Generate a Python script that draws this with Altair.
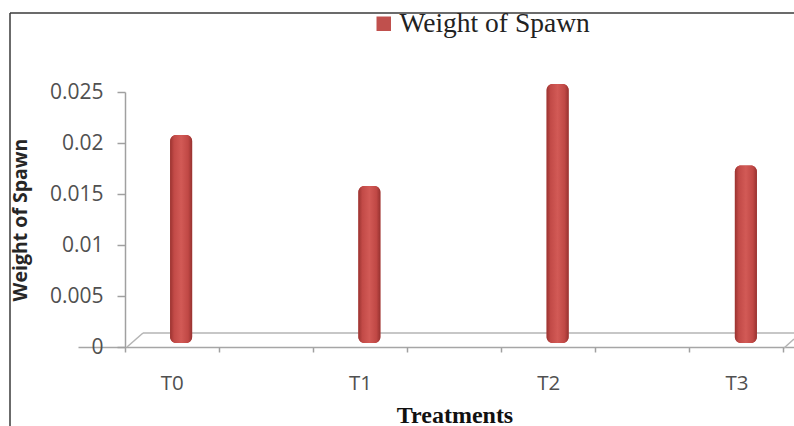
import altair as alt
import pandas as pd

categories = ["T0", "T1", "T2", "T3"]
weights = [0.02, 0.015, 0.025, 0.017]
series_name = "Weight of Spawn"
y_ticks = [0, 0.005, 0.01, 0.015, 0.02, 0.025]

df = pd.DataFrame({"Treatment": categories, "Weight": weights,
                   "Series": [series_name] * len(categories)})
one = pd.DataFrame({"k": [0]})

W, H = 659, 255

xscale = alt.Scale(domain=categories, range=[-47, 706], paddingInner=0, paddingOuter=0)
yscale = alt.Scale(domain=[0, 0.025], nice=False, zero=True)

y_enc = alt.Y("Weight:Q", scale=yscale, axis=alt.Axis(
    values=y_ticks, format="~g", grid=False, orient="left",
    title="Weight of Spawn", titleFont="Open Sans", titleFontWeight="bold",
    titleFontSize=19.5, titleColor="#262626", titleAngle=270,
    titleX=-105, titleY=H / 2, titleAlign="center", titleBaseline="middle",
    labelFont="Open Sans", labelFontSize=21, labelColor="#505050", labelPadding=14,
    tickSize=8, tickColor="#a0a0a0", tickWidth=1.5,
    domainColor="#a0a0a0", domainWidth=1.5))

x_main = alt.X("Treatment:N", scale=xscale, sort=categories, axis=alt.Axis(
    orient="bottom",
    title="Treatments", labelAngle=0, labelFont="Open Sans", labelFontSize=20.5,
    labelColor="#505050", labelPadding=21, labelBaseline="top",
    bandPosition=0.25,
    tickSize=5, tickColor="#a0a0a0", tickWidth=1.5,
    domainColor="#a6a6a6", domainWidth=1.5,
    titleFont="Liberation Serif", titleFontWeight="bold", titleFontSize=24,
    titleColor="#111111", titleX=W / 2, titleY=56, titleBaseline="top"))

x_second = alt.X("Treatment:N", scale=xscale, sort=categories, axis=alt.Axis(
    orient="bottom", title=None, labels=False, domain=False, bandPosition=0.75,
    tickSize=5, tickColor="#a0a0a0", tickWidth=1.5))

gradient = {
    "gradient": "linear", "x1": 0, "y1": 0, "x2": 1, "y2": 0,
    "stops": [
        {"offset": 0, "color": "#9a3330"},
        {"offset": 0.18, "color": "#c24a47"},
        {"offset": 0.5, "color": "#d25a56"},
        {"offset": 0.82, "color": "#c04845"},
        {"offset": 1, "color": "#973230"},
    ],
}

base = alt.Chart(df)

bars_legend = base.mark_bar(size=22, xOffset=9, yOffset=-8, y2Offset=-4, cornerRadius=6).encode(
    x=x_main,
    y=y_enc,
    y2=alt.Y2(datum=0),
    color=alt.Color("Series:N", scale=alt.Scale(range=["#C0504D"]), legend=alt.Legend(
        orient="none", legendX=245, legendY=-82, title=None,
        symbolType="square", symbolSize=210, symbolStrokeWidth=0,
        labelFont="Liberation Serif", labelFontSize=27.5, labelColor="#222222",
        labelOffset=2, labelLimit=500, padding=0)),
)

bars_grad = base.mark_bar(size=22, xOffset=9, yOffset=-8, y2Offset=-4, cornerRadius=6,
                          fill=gradient).encode(
    x=x_second,
    y=y_enc,
    y2=alt.Y2(datum=0),
)

floor_col = "#b4b4b4"
floor_back = alt.Chart(one).mark_rule(color=floor_col, strokeWidth=1.5).encode(
    x=alt.value(18), x2=alt.value(W + 10), y=alt.value(241), y2=alt.value(241))
floor_left = alt.Chart(one).mark_rule(color=floor_col, strokeWidth=1.5).encode(
    x=alt.value(2), x2=alt.value(18), y=alt.value(H), y2=alt.value(241))
floor_right = alt.Chart(one).mark_rule(color=floor_col, strokeWidth=1.5).encode(
    x=alt.value(W), x2=alt.value(W + 10), y=alt.value(H + 1), y2=alt.value(247))

frame_top = alt.Chart(one).mark_rule(color="#3a3a3a", strokeWidth=1.5).encode(
    x=alt.value(-115), x2=alt.value(W + 20), y=alt.value(-79), y2=alt.value(-79))
frame_left = alt.Chart(one).mark_rule(color="#3a3a3a", strokeWidth=1.5).encode(
    x=alt.value(-115), x2=alt.value(-115), y=alt.value(-79), y2=alt.value(H + 90))

chart = alt.layer(
    frame_top, frame_left, floor_back, floor_left, floor_right,
    bars_legend, bars_grad,
).resolve_axis(x="independent").properties(
    width=W, height=H,
    autosize=alt.AutoSizeParams(type="none"),
    padding={"left": 125, "top": 92, "right": 10, "bottom": 79},
    background="white",
).configure_view(stroke=None)

chart.save("out.html", embed_options={"renderer": "svg", "actions": False})
